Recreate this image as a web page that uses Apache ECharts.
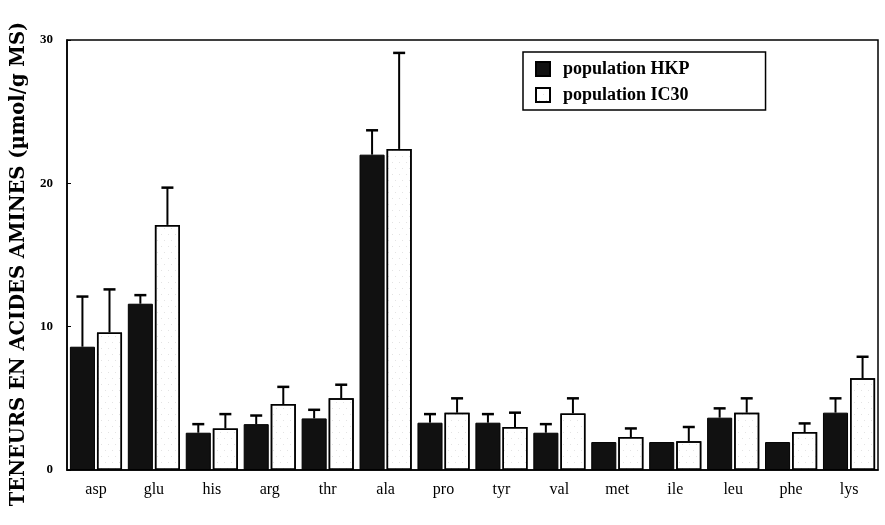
<!DOCTYPE html>
<html>
<head>
<meta charset="utf-8">
<script src="https://cdn.jsdelivr.net/npm/echarts@6/dist/echarts.min.js"></script>
<style>
  html, body { margin: 0; padding: 0; background: #fff; }
  #chart { width: 885px; height: 525px; }
</style>
</head>
<body>
<div id="chart"></div>
<script>
// acides amines
const categories = ['asp', 'glu', 'his', 'arg', 'thr', 'ala', 'pro', 'tyr', 'val', 'met', 'ile', 'leu', 'phe', 'lys']
// population HKP (moyenne + haut de la barre d'erreur)
const hkpValues = [8.6, 11.6, 2.6, 3.2, 3.6, 22.0, 3.3, 3.3, 2.6, 1.95, 1.95, 3.65, 1.95, 4.0]
const hkpErrTop = [12.1, 12.2, 3.2, 3.8, 4.2, 23.7, 3.9, 3.9, 3.2, null, null, 4.3, null, 5.0]
// population IC30
const icValues = [9.6, 17.1, 2.9, 4.6, 5.0, 22.4, 4.0, 3.0, 3.95, 2.3, 2.0, 4.0, 2.65, 6.4]
const icErrTop = [12.6, 19.7, 3.9, 5.8, 5.95, 29.1, 5.0, 4.0, 5.0, 2.9, 3.0, 5.0, 3.25, 7.9]
const yTicks = [0, 10, 20, 30]

const chart = echarts.init(document.getElementById('chart'))

const catGap = 0.1
const barGap = 0.08

// barre d'erreur au-dessus d'une barre (side = -1 gauche, +1 droite)
function errorBar(values, tops, side) {
  return function (params, api) {
    const i = api.value(0)
    const v = values[i]
    const t = tops[i]
    if (t == null) return
    const catW = api.size([1, 0])[0]
    const bw = catW * (1 - catGap) / (2 + barGap)
    const x = api.coord([i, 0])[0] + side * (bw / 2 + bw * barGap / 2)
    const y0 = api.coord([i, v])[1]
    const y1 = api.coord([i, t])[1]
    return {
      type: 'group',
      children: [
        { type: 'line', shape: { x1: x, y1: y0, x2: x, y2: y1 }, style: { stroke: '#000', lineWidth: 2 } },
        { type: 'line', shape: { x1: x - 6, y1: y1, x2: x + 6, y2: y1 }, style: { stroke: '#000', lineWidth: 2.5 } }
      ]
    }
  }
}

const option = {
  animation: false,
  backgroundColor: '#fff',
  textStyle: { fontFamily: 'Liberation Serif' },
  legend: {
    left: 523,
    top: 52,
    orient: 'vertical',
    padding: [8, 76, 6, 12],
    itemGap: 8,
    itemWidth: 14,
    itemHeight: 14,
    icon: 'rect',
    borderColor: '#000',
    borderWidth: 1.5,
    textStyle: { fontFamily: 'Liberation Serif', fontWeight: 'bold', fontSize: 18, color: '#000', padding: [0, 0, 0, 8] },
    data: ['population HKP', 'population IC30']
  },
  grid: {
    left: 67,
    right: 7,
    top: 40,
    bottom: 55,
    outerBoundsMode: 'none',
    show: true,
    borderColor: '#000',
    borderWidth: 1.5
  },
  xAxis: {
    type: 'category',
    data: categories,
    axisLine: { lineStyle: { color: '#000', width: 1.5 } },
    axisTick: { show: false },
    axisLabel: { color: '#000', fontFamily: 'Liberation Serif', fontSize: 16, margin: 12 }
  },
  yAxis: {
    type: 'value',
    min: 0,
    max: 30,
    interval: 10,
    name: 'TENEURS EN ACIDES AMINES (µmol/g MS)',
    nameLocation: 'middle',
    nameGap: 35,
    nameTextStyle: { fontFamily: 'DejaVu Serif', fontWeight: 'bold', fontSize: 19.5, color: '#000', padding: [0, 18, 0, 0] },
    splitLine: { show: false },
    axisLine: { show: true, lineStyle: { color: '#000', width: 1.5 } },
    axisTick: { show: true, inside: true, length: 4, lineStyle: { color: '#000' } },
    axisLabel: {
      color: '#000',
      fontFamily: 'Liberation Serif',
      fontWeight: 'bold',
      fontSize: 13,
      margin: 14,
      formatter: v => (yTicks.indexOf(v) >= 0 ? String(v) : '')
    }
  },
  series: [
    {
      name: 'population HKP',
      type: 'bar',
      data: hkpValues,
      barGap: (barGap * 100) + '%',
      barCategoryGap: (catGap * 100) + '%',
      itemStyle: { color: '#111', borderColor: '#000', borderWidth: 1 }
    },
    {
      name: 'population IC30',
      type: 'bar',
      data: icValues,
      itemStyle: {
        color: '#fff',
        borderColor: '#000',
        borderWidth: 1.5,
        decal: {
          symbol: 'circle',
          symbolSize: 0.6,
          color: 'rgba(0,0,0,0.5)',
          dashArrayX: [[1, 6], [0, 3, 1, 3]],
          dashArrayY: [1, 5],
          rotation: 0
        }
      }
    },
    {
      type: 'custom',
      renderItem: errorBar(hkpValues, hkpErrTop, -1),
      data: categories.map((c, i) => [i, hkpErrTop[i] == null ? hkpValues[i] : hkpErrTop[i]]),
      z: 1
    },
    {
      type: 'custom',
      renderItem: errorBar(icValues, icErrTop, 1),
      data: categories.map((c, i) => [i, icErrTop[i]]),
      z: 1
    }
  ]
}

chart.setOption(option, true)
</script>
</body>
</html>
